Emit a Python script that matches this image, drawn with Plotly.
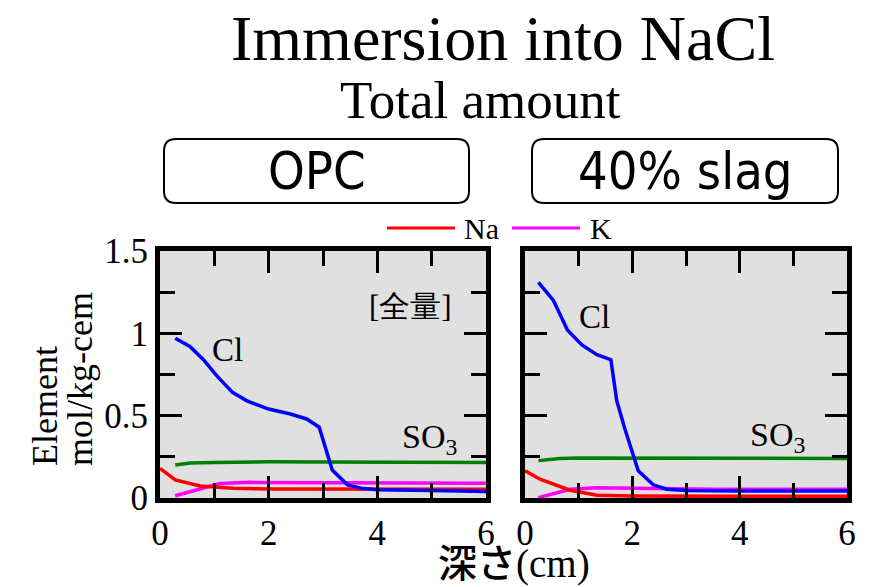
import plotly.graph_objects as go

W, H = 873, 587

# ---- OPC ----
opc_cl_x = [0.28, 0.55, 0.8, 1.05, 1.34, 1.6, 2.0, 2.4, 2.7, 2.93, 3.17, 3.45, 3.7, 4.0, 5.0, 6.0]
opc_cl_y = [0.97, 0.92, 0.84, 0.74, 0.64, 0.59, 0.54, 0.51, 0.48, 0.43, 0.17, 0.08, 0.06, 0.05, 0.045, 0.04]
opc_so3_x = [0.28, 0.55, 1.0, 2.0, 3.0, 4.0, 5.0, 6.0]
opc_so3_y = [0.20, 0.213, 0.215, 0.22, 0.218, 0.217, 0.216, 0.215]
opc_na_x = [0.0, 0.28, 0.74, 1.35, 2.0, 3.0, 4.0, 5.0, 6.0]
opc_na_y = [0.18, 0.11, 0.073, 0.059, 0.055, 0.054, 0.053, 0.053, 0.053]
opc_k_x = [0.28, 0.86, 1.1, 1.66, 2.5, 3.5, 4.5, 6.0]
opc_k_y = [0.014, 0.065, 0.088, 0.095, 0.094, 0.092, 0.09, 0.089]

# ---- 40% slag ----
slag_cl_x = [0.25, 0.53, 0.79, 1.06, 1.34, 1.6, 1.71, 1.86, 2.11, 2.39, 2.64, 3.0, 4.0, 6.0]
slag_cl_y = [1.31, 1.20, 1.02, 0.93, 0.87, 0.84, 0.59, 0.42, 0.165, 0.08, 0.053, 0.045, 0.043, 0.043]
slag_so3_x = [0.25, 0.65, 1.0, 2.0, 3.0, 4.0, 5.0, 6.0]
slag_so3_y = [0.227, 0.24, 0.243, 0.243, 0.243, 0.242, 0.241, 0.24]
slag_na_x = [0.0, 0.28, 0.84, 1.34, 2.0, 3.0, 4.0, 6.0]
slag_na_y = [0.165, 0.114, 0.047, 0.017, 0.012, 0.01, 0.01, 0.01]
slag_k_x = [0.25, 0.84, 1.34, 1.83, 2.64, 3.5, 4.5, 6.0]
slag_k_y = [0.002, 0.053, 0.063, 0.06, 0.053, 0.053, 0.053, 0.053]

x_ticks = [0, 2, 4, 6]
y_ticks = [0, 0.5, 1, 1.5]
y_tick_text = ["0", "0.5", "1", "1.5"]

SERIF = "Liberation Serif, Times New Roman, serif"
COND = "DejaVu Sans Condensed, Liberation Sans Narrow, sans-serif"
CJK = "Noto Sans CJK JP, sans-serif"

C_CL, C_SO3, C_NA, C_K = "#0000ff", "#008000", "#ff0000", "#ff00ff"


def px(x):
    return x / W


def py(y):
    return 1 - y / H


fig = go.Figure()

panels = [
    ("x", "y", opc_cl_x, opc_cl_y, opc_so3_x, opc_so3_y, opc_na_x, opc_na_y, opc_k_x, opc_k_y),
    ("x2", "y2", slag_cl_x, slag_cl_y, slag_so3_x, slag_so3_y, slag_na_x, slag_na_y, slag_k_x, slag_k_y),
]
for xa, ya, clx, cly, sx, sy, nx, ny, kx, ky in panels:
    for xs, ys, col in [(sx, sy, C_SO3), (kx, ky, C_K), (nx, ny, C_NA), (clx, cly, C_CL)]:
        fig.add_trace(go.Scatter(x=xs, y=ys, mode="lines", xaxis=xa, yaxis=ya,
                                 line=dict(color=col, width=3.5), showlegend=False,
                                 hoverinfo="skip"))

axis_common = dict(
    showline=True, linewidth=5, linecolor="black", mirror="allticks",
    ticks="inside", ticklen=22, tickwidth=3, tickcolor="black",
    showgrid=False, zeroline=False, automargin=False,
    tickfont=dict(family=SERIF, size=35, color="black"),
)
minor_x = dict(dtick=1, ticklen=15, tickwidth=3, ticks="inside", tickcolor="black", showgrid=False)
minor_y = dict(dtick=0.25, ticklen=15, tickwidth=3, ticks="inside", tickcolor="black", showgrid=False)

x_dom1 = [px(160), px(486)]
x_dom2 = [px(525), px(847)]
y_dom = [py(498), py(251)]

fig.update_layout(
    template="none",
    width=W, height=H, autosize=False,
    margin=dict(l=0, r=0, t=0, b=0, pad=0, autoexpand=False),
    paper_bgcolor="white", plot_bgcolor="#e0e0e0",
    xaxis=dict(domain=x_dom1, range=[0, 6], anchor="y", tickvals=x_ticks, minor=minor_x,
               **axis_common),
    yaxis=dict(domain=y_dom, range=[0, 1.5], anchor="x", tickvals=y_ticks, ticktext=y_tick_text,
               minor=minor_y, **axis_common),
    xaxis2=dict(domain=x_dom2, range=[0, 6], anchor="y2", tickvals=x_ticks, minor=minor_x,
                **axis_common),
    yaxis2=dict(domain=y_dom, range=[0, 1.5], anchor="x2", tickvals=y_ticks, showticklabels=False,
                minor=minor_y, **axis_common),
)


def rounded_box(x0, y0, x1, y1, r):
    """Rounded rectangle path in paper coordinates from pixel corners."""
    pts = [
        f"M {px(x0 + r)} {py(y0)}",
        f"L {px(x1 - r)} {py(y0)}",
        f"Q {px(x1)} {py(y0)} {px(x1)} {py(y0 + r)}",
        f"L {px(x1)} {py(y1 - r)}",
        f"Q {px(x1)} {py(y1)} {px(x1 - r)} {py(y1)}",
        f"L {px(x0 + r)} {py(y1)}",
        f"Q {px(x0)} {py(y1)} {px(x0)} {py(y1 - r)}",
        f"L {px(x0)} {py(y0 + r)}",
        f"Q {px(x0)} {py(y0)} {px(x0 + r)} {py(y0)}",
        "Z",
    ]
    return " ".join(pts)


shapes = []
for bx0, bx1 in [(164, 469), (532, 838)]:
    shapes.append(dict(type="path", xref="paper", yref="paper",
                       path=rounded_box(bx0, 139, bx1, 203, 12),
                       line=dict(color="black", width=2), fillcolor="white", layer="below"))

# legend swatches
for lx0, lx1, col in [(387, 455, C_NA), (512, 580, C_K)]:
    shapes.append(dict(type="line", xref="paper", yref="paper",
                       x0=px(lx0), x1=px(lx1), y0=py(228), y1=py(228),
                       line=dict(color=col, width=3)))
fig.update_layout(shapes=shapes)

ann = []


def text(x, y, s, size, family=SERIF, xref="paper", yref="paper", xanchor="center",
         yanchor="middle", **kw):
    ann.append(dict(x=x, y=y, xref=xref, yref=yref, text=s, showarrow=False,
                    xanchor=xanchor, yanchor=yanchor,
                    font=dict(family=family, size=size, color="black"), **kw))


text(px(503), py(38), "Immersion into NaCl", 64)
text(px(480), py(100), "Total amount", 53)
text(px(317), py(171), "OPC", 52, family=COND)
text(px(685), py(171), "40% slag", 52, family=COND)
text(px(462), py(228), "Na", 30, xanchor="left")
text(px(588), py(228), "K", 30, xanchor="left")

# panel labels in data coordinates
text(1.25, 0.9, "Cl", 33, xref="x", yref="y")
text(4.96, 0.36, "SO<sub>3</sub>", 34, xref="x", yref="y")
text(4.61, 1.16, "[全量]", 31, xref="x", yref="y")
text(1.29, 1.10, "Cl", 33, xref="x2", yref="y2")
text(4.7, 0.37, "SO<sub>3</sub>", 34, xref="x2", yref="y2")

# axis titles
text(px(45), py(468), "Element", 36, textangle=-90, yanchor="bottom")
text(px(80), py(468), "mol/kg-cem", 36, textangle=-90, yanchor="bottom")
text(px(514), py(560),
     "<span style='font-family:Noto Sans CJK JP;font-weight:500'>深さ</span>(cm)", 39)

fig.update_layout(annotations=ann)

fig.write_html("out.html")
